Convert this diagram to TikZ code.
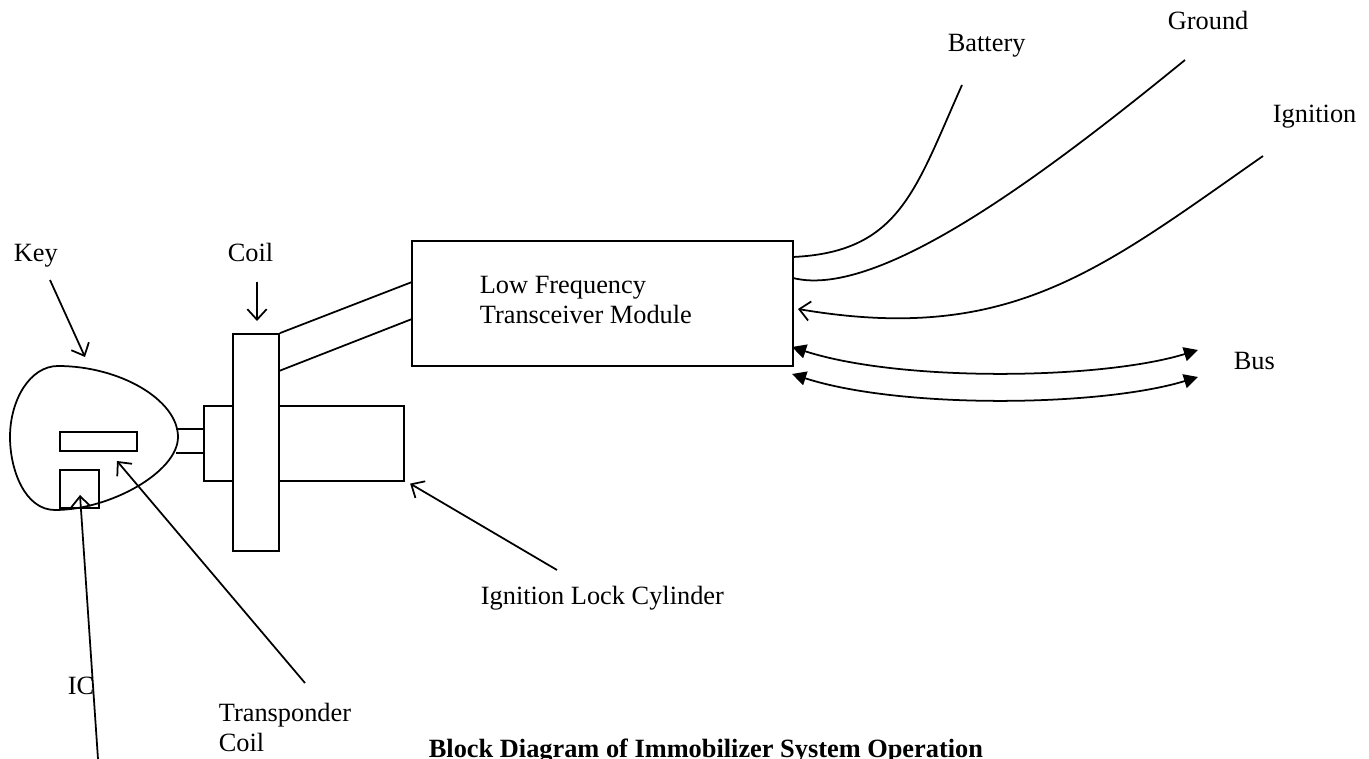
\documentclass[tikz,border=0pt]{standalone}
\usepackage{fontspec}
\setmainfont{Liberation Serif}
\usetikzlibrary{arrows.meta}

\begin{document}
\begin{tikzpicture}[x=0.02cm, y=-0.02cm, line width=1pt,
    every node/.style={font=\fontsize{15}{17}\selectfont, inner sep=0pt},
    box/.style={rectangle, draw, inner sep=0pt},
    pointer/.style={-{Straight Barb[length=6pt,width=11pt]}},
    busline/.style={{Triangle[length=8pt,width=8pt]}-{Triangle[length=8pt,width=8pt]}}]
        \useasboundingbox (0,0) rectangle (1369,759);

        % key head
        \draw (58,366) .. controls (120,366) and (178,400) .. (178,437)
              .. controls (178,472) and (110,510) .. (55,510)
              .. controls (25,510) and (10,470) .. (10,437)
              .. controls (10,400) and (30,366) .. (58,366);
        \node[box, minimum width=1.54cm, minimum height=0.38cm] (tcoil) at (98.5,441.5) {};
        \node[box, minimum width=0.78cm, minimum height=0.76cm] (ic) at (79.5,489) {};
        \draw (176,429) -- (204,429);
        \draw (176,453) -- (204,453);

        % lock cylinder and coil
        \node[box, minimum width=0.58cm, minimum height=1.5cm] (cylL) at (218.5,443.5) {};
        \node[box, minimum width=2.5cm, minimum height=1.5cm] (cylR) at (341.5,443.5) {};
        \node[box, fill=white, minimum width=0.92cm, minimum height=4.34cm] (coil) at (256,442.5) {};

        % transceiver
        \node[box, minimum width=7.62cm, minimum height=2.5cm] (module) at (602.5,303.5) {};
        \node[align=left, anchor=west] (modText) at (479,300) {Low Frequency\\Transceiver Module};

        \coordinate (mA) at (412,282);
        \coordinate (mB) at (412,319);
        \coordinate (cB) at (279,371);
        \draw (coil.north east) -- (mA);
        \draw (cB) -- (mB);

        % wires
        \coordinate (mBat) at (793,257);
        \coordinate (mGnd) at (793,278);
        \coordinate (mIgn) at (798,309);
        \coordinate (bat) at (962,85);
        \coordinate (gnd) at (1185,60);
        \coordinate (ign) at (1263,156);
        \draw (mBat) .. controls (900,252) and (915,190) .. (bat);
        \draw (mGnd) .. controls (880,300) and (1050,170) .. (gnd);
        \draw[pointer] (ign) .. controls (1100,270) and (1010,345) .. (mIgn);

        \node[anchor=base west] (battery) at (947,52) {Battery};
        \node[anchor=base west] (ground) at (1167,30) {Ground};
        \node[anchor=base west] (ignition) at (1272,123) {Ignition};

        % bus
        \coordinate (busA1) at (792,347);
        \coordinate (busA2) at (1198,350);
        \coordinate (busB1) at (792,374);
        \coordinate (busB2) at (1198,377);
        \draw[busline] (busA1) .. controls (900,382) and (1100,380) .. (busA2);
        \draw[busline] (busB1) .. controls (900,409) and (1100,407) .. (busB2);
        \node[anchor=base west] (bus) at (1233,370) {Bus};

        % labels
        \node[anchor=base west] (key) at (13,262) {Key};
        \node[anchor=base west] (coilLabel) at (227,262) {Coil};
        \node[anchor=base west] (ilc) at (480,605) {Ignition Lock Cylinder};
        \node[align=left, anchor=north west] (tcLabel) at (218,702) {Transponder\\Coil};
        \node[anchor=base west] (icLabel) at (67,694) {IC};
        \node[anchor=base west, font=\fontsize{15}{17}\selectfont\bfseries] (title) at (428,757)
            {Block Diagram of Immobilizer System Operation};

        \coordinate (keyTail) at (50,280);
        \coordinate (keyTip) at (85,357);
        \coordinate (coilTail) at (257,282);
        \coordinate (coilTip) at (257,321);
        \coordinate (ilcTail) at (557,570);
        \coordinate (tcTail) at (305,683);
        \coordinate (tcTip) at (117,461);
        \coordinate (icTail) at (98,759);
        \coordinate (icTip) at (80,495);

        \draw[pointer] (keyTail) -- (keyTip);
        \draw[pointer] (coilTail) -- (coilTip);
        \draw[pointer] (ilcTail) -- ([xshift=3pt, yshift=-1pt]cylR.south east);
        \draw[pointer] (tcTail) -- (tcTip);
        \draw[pointer] (icTail) -- (icTip);
      \end{tikzpicture}
\end{document}
